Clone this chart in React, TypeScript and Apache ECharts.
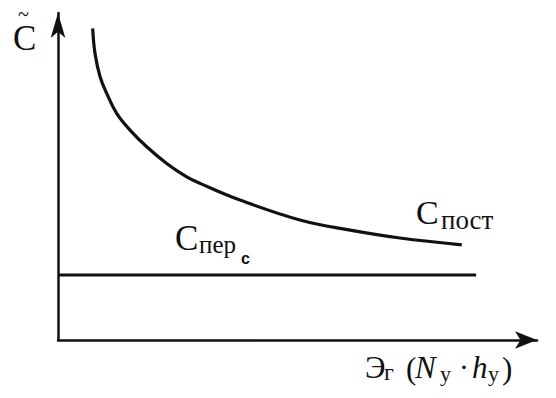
import React, { useEffect, useRef } from "react";
import * as echarts from "echarts";

// Decreasing curve (fixed costs per unit)
const curveX = [7.24, 7.72, 8.77, 10.17, 12.25, 15.03, 18.52, 22.69, 26.87, 29.65, 38.0, 50.5, 61.0, 71.4, 84.3];
const curveY = [95.3, 87.7, 80.6, 75.4, 69.3, 64.2, 59.1, 54.0, 49.9, 47.9, 42.8, 36.7, 33.6, 31.2, 29.1];
// Horizontal line (variable costs per unit)
const flatX = [0, 87.3];
const flatY = [19.9, 19.9];

const SERIF = "Liberation Serif";
const INK = "#111";

export default function App() {
  const ref = useRef<HTMLDivElement>(null);
  useEffect(() => {
    if (!ref.current) return;
    const chart = echarts.init(ref.current, null, { renderer: "svg" });
    const t = (text: string, x: number, y: number, size: number, extra: any = {}) => ({
      type: "text",
      x,
      y,
      style: {
        text,
        fontFamily: extra.family || SERIF,
        fontSize: size,
        lineHeight: extra.lh || Math.round(size * 0.7),
        fontStyle: extra.style || "normal",
        fontWeight: extra.weight || "normal",
        fill: INK,
        textAlign: "left",
        textVerticalAlign: "middle",
      },
      z: 20,
    });
    chart.setOption({
      animation: false,
      grid: { left: 58, right: 19, top: 13, bottom: 58 },
      xAxis: {
        type: "value",
        min: 0,
        max: 100,
        axisLine: {
          show: true,
          lineStyle: { color: INK, width: 2.5 },
          symbol: ["none", "arrow"],
          symbolSize: [13, 22],
        },
        axisTick: { show: false },
        axisLabel: { show: false },
        splitLine: { show: false },
      },
      yAxis: {
        type: "value",
        min: 0,
        max: 100,
        axisLine: {
          show: true,
          lineStyle: { color: INK, width: 2.5 },
          symbol: ["none", "arrow"],
          symbolSize: [11, 25],
        },
        axisTick: { show: false },
        axisLabel: { show: false },
        splitLine: { show: false },
      },
      series: [
        {
          type: "line",
          data: curveX.map((x, i) => [x, curveY[i]]),
          smooth: 0.4,
          showSymbol: false,
          lineStyle: { color: INK, width: 3.2 },
        },
        {
          type: "line",
          data: flatX.map((x, i) => [x, flatY[i]]),
          showSymbol: false,
          lineStyle: { color: INK, width: 3 },
        },
      ],
      graphic: [
        // Y axis label: C with tilde
        t("С", 13, 38, 35, { lh: 20 }),
        t("~", 18, 14, 20, { lh: 8 }),
        // С пер с
        t("С", 175, 238, 35),
        t("пер", 199, 244, 25),
        t("с", 241, 258, 16, { weight: "bold", family: "Liberation Sans" }),
        // С пост
        t("С", 416, 212, 34),
        t("пост", 441, 220, 27),
        // Э г (N у · h у)
        t("Э", 365, 367, 31),
        t("г", 384, 372, 24, { lh: 12 }),
        t("(", 406, 368, 31),
        t("N", 415, 367, 31, { style: "italic" }),
        t("у", 440, 373, 22),
        t("·", 459, 366, 30),
        t("h", 472, 367, 31, { style: "italic" }),
        t("у", 488, 373, 22),
        t(")", 502, 368, 31),
      ],
    });
    return () => chart.dispose();
  }, []);
  return (
    <div
      ref={ref}
      style={{ position: "absolute", left: 0, top: 0, width: 556, height: 398, background: "#fff" }}
    />
  );
}
